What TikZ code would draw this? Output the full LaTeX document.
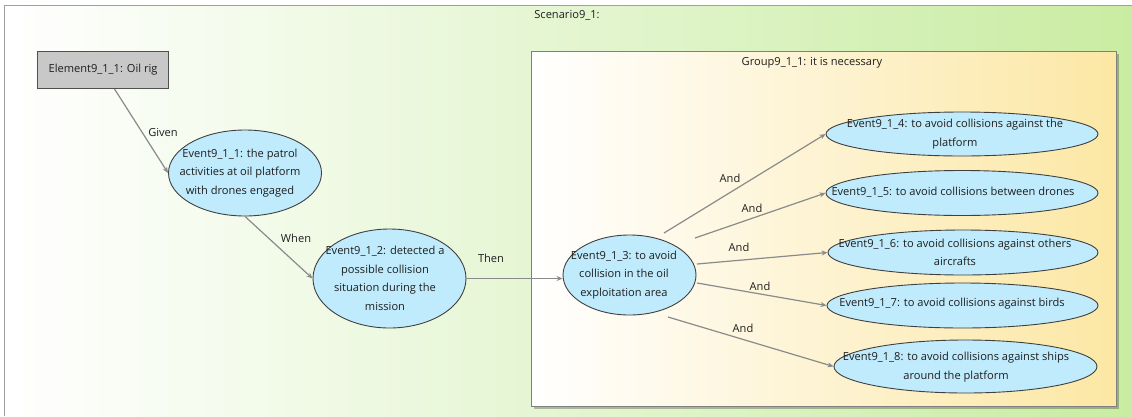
\documentclass[tikz,border=0pt]{standalone}
\usepackage{fontspec}
\setmainfont{Open Sans}
\usetikzlibrary{shapes.geometric,arrows.meta}
\definecolor{evfill}{RGB}{192,235,252}
\definecolor{evline}{RGB}{64,64,64}
\definecolor{elfill}{RGB}{200,200,200}
\definecolor{elline}{RGB}{80,80,80}
\definecolor{scengreen}{RGB}{201,236,162}
\definecolor{groupyellow}{RGB}{252,231,164}
\definecolor{linkgray}{RGB}{138,138,138}
\definecolor{framegray}{RGB}{160,160,160}
\definecolor{txt}{RGB}{30,30,30}
\tikzset{
  evshape/.style={ellipse, draw=evline, fill=evfill, line width=0.9pt, inner sep=0pt},
  evtext/.style={align=center, text=txt, inner sep=0pt},
  elbox/.style={rectangle, draw=elline, fill=elfill, line width=0.9pt, text=txt,
    minimum width=131pt, minimum height=37pt, inner sep=0pt},
  link/.style={draw=linkgray, line width=1.2pt, -{Stealth[length=6pt,width=5pt]}},
  linklabel/.style={text=txt, inner sep=0pt},
}
\begin{document}
\begin{tikzpicture}[x=1pt,y=-1pt,font=\fontsize{11.1}{18.5}\selectfont]
\useasboundingbox (0,0) rectangle (1132,416);
\fill[white] (0,0) rectangle (1132,416);
% scenario frame
\shade[left color=white, right color=scengreen] (4,5) rectangle (1132,416);
\draw[framegray, line width=1pt] (4,416) -- (4,5) -- (1132,5);
\node[evtext] (scen) at (567,15) {Scenario9\_1:};
% group frame with its shadow
\fill[black, opacity=0.25] (534,54) rectangle (1119,409);
\shade[left color=white, right color=groupyellow] (531,51) rectangle (1116,406);
\draw[gray, line width=0.9pt] (531,51) rectangle (1116,406);
\node[evtext] (grp) at (812,63) {Group9\_1\_1: it is necessary};
% element
\node[elbox] (el) at (103,70) {Element9\_1\_1: Oil rig};
% events
\node[evshape, minimum width=153pt, minimum height=86pt] (e1) at (245,173) {};
\node[evtext] (e1t) at (240,173) {Event9\_1\_1: the patrol\\activities at oil platform\\with drones engaged};
\node[evshape, minimum width=153pt, minimum height=99pt] (e2) at (389.5,278.5) {};
\node[evtext] (e2t) at (385,278.5) {Event9\_1\_2: detected a\\possible collision\\situation during the\\mission};
\node[evshape, minimum width=133pt, minimum height=80pt] (e3) at (629.5,275) {};
\node[evtext] (e3t) at (624,275) {Event9\_1\_3: to avoid\\collision in the oil\\exploitation area};
\node[evshape, minimum width=272pt, minimum height=44pt] (e4) at (962,134) {};
\node[evtext] (e4t) at (955,134) {Event9\_1\_4: to avoid collisions against the\\platform};
\node[evshape, minimum width=272pt, minimum height=45pt] (e5) at (962,193) {};
\node[evtext] (e5t) at (953,192) {Event9\_1\_5: to avoid collisions between drones};
\node[evshape, minimum width=270pt, minimum height=45pt] (e6) at (963,252.5) {};
\node[evtext] (e6t) at (955,252.5) {Event9\_1\_6: to avoid collisions against others\\aircrafts};
\node[evshape, minimum width=271pt, minimum height=45pt] (e7) at (962.5,305.5) {};
\node[evtext] (e7t) at (952,304) {Event9\_1\_7: to avoid collisions against birds};
\node[evshape, minimum width=263pt, minimum height=53pt] (e8) at (965.5,366.5) {};
\node[evtext] (e8t) at (956,367) {Event9\_1\_8: to avoid collisions against ships\\around the platform};
% connectors
\draw[link] ([xshift=11.5pt]el.south) -- (e1.west);
\draw[link] (e1.south) -- (e2.west);
\draw[link] (e2.east) -- (e2.east -| e3.west);
\draw[link] ([xshift=34.5pt,yshift=42pt]e3.center) -- (e4.west);
\draw[link] ([xshift=65.5pt,yshift=37pt]e3.center) -- (e5.west);
\draw[link] ([xshift=67.5pt,yshift=11pt]e3.center) -- (e6.west);
\draw[link] ([xshift=67.5pt,yshift=-8pt]e3.center) -- (e7.west);
\draw[link] ([xshift=38.5pt,yshift=-42pt]e3.center) -- (e8.west);
% connector labels
\node[linklabel] (lgiven) at (163,132) {Given};
\node[linklabel] (lwhen) at (296,238) {When};
\node[linklabel] (lthen) at (491,258) {Then};
\node[linklabel] (land4) at (730,178) {And};
\node[linklabel] (land5) at (752,208) {And};
\node[linklabel] (land6) at (739,247) {And};
\node[linklabel] (land7) at (760,286) {And};
\node[linklabel] (land8) at (743,328) {And};
\end{tikzpicture}
\end{document}
